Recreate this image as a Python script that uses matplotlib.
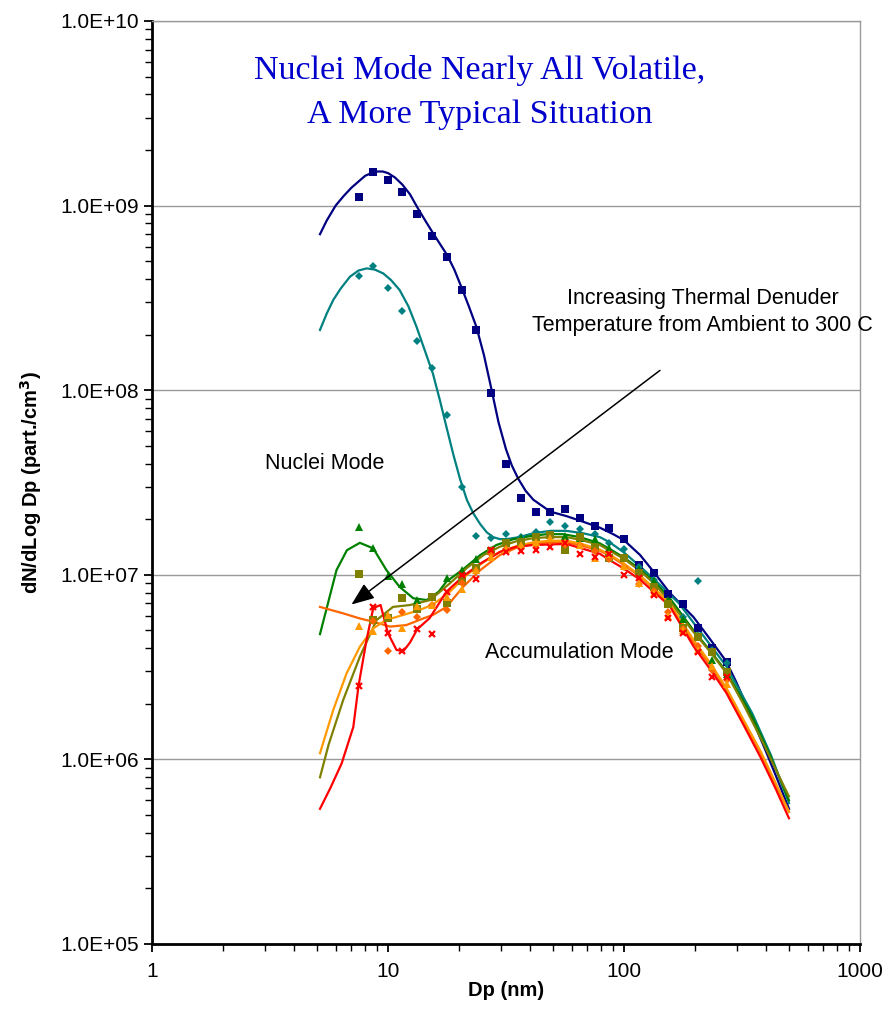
import numpy as np
import matplotlib
matplotlib.use('Agg')
import matplotlib.pyplot as plt
from matplotlib.ticker import LogLocator, FuncFormatter, NullFormatter

plt.rcParams['font.family'] = ['Liberation Sans', 'DejaVu Sans']

# SMPS size bins (nm)
bins = [7.5, 8.66, 10.0, 11.5, 13.3, 15.4, 17.8, 20.5, 23.7, 27.4, 31.6, 36.5, 42.2,
        48.7, 56.2, 64.9, 75.0, 86.6, 100, 115.5, 133.4, 154, 177.8, 205.4, 237.1, 273.8]

# measured points, one list per denuder temperature
navy_pts = [1.11e9, 1.52e9, 1.38e9, 1.19e9, 8.98e8, 6.84e8, 5.27e8, 3.49e8, 2.12e8, 9.6e7, 4.0e7,
            2.62e7, 2.2e7, 2.2e7, 2.27e7, 2.02e7, 1.83e7, 1.79e7, 1.56e7, 1.13e7, 1.02e7, 7.87e6,
            6.95e6, 5.17e6, 4.0e6, 3.38e6]
teal_pts = [4.17e8, 4.71e8, 3.56e8, 2.67e8, 1.85e8, 1.32e8, 7.35e7, 2.99e7, 1.63e7, 1.58e7, 1.66e7,
            1.61e7, 1.7e7, 1.94e7, 1.84e7, 1.77e7, 1.67e7, 1.48e7, 1.38e7, 1.10e7, 9.38e6, 7.0e6,
            5.9e6, 9.26e6, 3.9e6, 3.32e6]
green_pts = [1.82e7, 1.39e7, 9.8e6, 8.9e6, 7.3e6, 7.6e6, 9.66e6, 1.06e7, 1.22e7, 1.36e7, 1.5e7,
             1.58e7, 1.63e7, 1.64e7, 1.62e7, 1.58e7, 1.56e7, 1.4e7, 1.25e7, 1.08e7, 9.2e6, 7.3e6,
             5.73e6, 4.7e6, 3.45e6, 2.9e6]
olive_pts = [1.01e7, 5.7e6, 5.87e6, 7.5e6, 6.5e6, 7.6e6, 7.06e6, 9.2e6, 1.09e7, 1.35e7, 1.48e7,
             1.5e7, 1.6e7, 1.65e7, 1.37e7, 1.6e7, 1.39e7, 1.24e7, 1.24e7, 1.02e7, 8.6e6, 6.95e6,
             5.13e6, 4.58e6, 3.83e6, 2.99e6]
orange_pts = [np.nan, 5.65e6, 3.85e6, 6.3e6, 5.9e6, 6.9e6, 6.46e6, 9.0e6, 1.05e7, 1.3e7, 1.38e7,
              1.42e7, 1.45e7, 1.5e7, 1.45e7, 1.45e7, 1.35e7, 1.22e7, 1.1e7, 8.9e6, 8.2e6, 6.3e6,
              5.1e6, 4.1e6, 3.05e6, 2.7e6]
amber_pts = [5.3e6, 4.98e6, 6.06e6, 5.13e6, 6.8e6, 6.9e6, 7.6e6, 8.4e6, 1.06e7, 1.25e7, 1.38e7,
             1.45e7, 1.5e7, 1.58e7, 1.5e7, 1.45e7, 1.24e7, 1.3e7, 1.12e7, 9.0e6, 8.0e6, 6.0e6,
             5.0e6, 3.9e6, 3.2e6, 2.55e6]
red_pts = [2.5e6, 6.67e6, 4.82e6, 3.87e6, 5.07e6, 4.76e6, 8.1e6, 1.0e7, 9.5e6, 1.36e7, 1.33e7,
           1.35e7, 1.36e7, 1.42e7, 1.48e7, 1.3e7, 1.25e7, 1.3e7, 1.0e7, 9.6e6, 7.8e6, 5.8e6,
           4.82e6, 3.84e6, 2.8e6, 2.8e6]

# fitted curves
navy_fx = [5.15, 5.5, 6.0, 6.5, 7.0, 7.5, 8.0, 8.5, 9.0, 9.5, 10.0, 10.7, 11.5, 12.4, 13.3, 14.3,
           15.4, 16.6, 17.8, 19.1, 20.5, 22.0, 23.7, 25.5, 27.4, 29.4, 31.6, 33.5, 35.7, 38.3,
           41.3, 48.7, 57, 67, 79, 90, 100, 117, 135, 156, 197, 231, 271, 300, 350, 400, 450, 500]
navy_fy = [7.0e8, 8.3e8, 1.0e9, 1.13e9, 1.25e9, 1.35e9, 1.45e9, 1.5e9, 1.53e9, 1.53e9, 1.5e9,
           1.42e9, 1.3e9, 1.15e9, 9.8e8, 8.4e8, 7.2e8, 6.2e8, 5.4e8, 4.5e8, 3.6e8, 2.85e8, 2.2e8,
           1.55e8, 1.02e8, 6.7e7, 4.8e7, 3.9e7, 3.3e7, 2.85e7, 2.55e7, 2.2e7, 2.08e7, 1.94e7,
           1.8e7, 1.66e7, 1.54e7, 1.28e7, 1.02e7, 8.0e6, 5.9e6, 4.5e6, 3.4e6, 2.6e6, 1.65e6,
           1.1e6, 7.6e5, 5.4e5]
teal_fx = [5.15, 5.5, 5.86, 6.3, 6.9, 7.5, 8.13, 8.8, 9.55, 10.3, 11.2, 12.2, 13.2, 14.3, 15.5,
           16.6, 17.7, 18.9, 20.2, 21.6, 23.0, 24.6, 26.2, 27.9, 29.8, 31.8, 36, 41.3, 48.7, 57,
           67, 79, 87, 100, 117, 141, 171, 197, 231, 271, 350, 420, 500]
teal_fy = [2.12e8, 2.6e8, 3.08e8, 3.55e8, 4.12e8, 4.45e8, 4.57e8, 4.5e8, 4.29e8, 3.95e8, 3.49e8,
           2.85e8, 2.21e8, 1.65e8, 1.23e8, 8.8e7, 6.3e7, 4.5e7, 3.3e7, 2.54e7, 2.15e7, 1.88e7,
           1.7e7, 1.6e7, 1.56e7, 1.56e7, 1.6e7, 1.68e7, 1.73e7, 1.73e7, 1.68e7, 1.6e7, 1.5e7,
           1.32e7, 1.11e7, 8.9e6, 7.0e6, 5.5e6, 4.2e6, 3.2e6, 1.77e6, 1.05e6, 5.8e5]
green_fx = [5.15, 5.5, 6.05, 6.7, 7.6, 8.66, 9.85, 11.2, 12.8, 14.6, 16.4, 17.7, 20.8, 24.6, 28.8,
            34, 40, 47, 55, 65, 79, 87, 100, 117, 135, 156, 197, 231, 271, 350, 420, 500]
green_fy = [4.77e6, 6.6e6, 1.06e7, 1.36e7, 1.49e7, 1.39e7, 1.06e7, 8.6e6, 7.46e6, 7.3e6, 8.1e6,
            9.2e6, 1.07e7, 1.28e7, 1.45e7, 1.56e7, 1.62e7, 1.66e7, 1.66e7, 1.6e7, 1.48e7, 1.38e7,
            1.24e7, 1.07e7, 9.1e6, 7.5e6, 5.0e6, 3.9e6, 3.0e6, 1.7e6, 1.02e6, 6.0e5]
olive_fx = [5.15, 5.6, 6.46, 7.6, 8.95, 10.5, 12.4, 15.1, 18.3, 21.6, 25.4, 29.8, 35, 41.3, 48.7,
            57, 65, 79, 87, 100, 117, 135, 156, 197, 231, 271, 320, 380, 440, 500]
olive_fy = [8.0e5, 1.2e6, 2.1e6, 3.6e6, 5.69e6, 6.7e6, 6.86e6, 7.3e6, 9.0e6, 1.09e7, 1.28e7,
            1.42e7, 1.52e7, 1.58e7, 1.6e7, 1.6e7, 1.55e7, 1.45e7, 1.35e7, 1.22e7, 1.05e7, 8.9e6,
            7.2e6, 4.9e6, 3.85e6, 2.95e6, 2.0e6, 1.3e6, 8.8e5, 6.3e5]
orange_fx = [5.15, 6.46, 7.6, 8.66, 10.2, 11.96, 14.1, 15.5, 17.7, 20.8, 24.6, 29.8, 35, 41.3,
             48.7, 57, 65, 79, 87, 100, 117, 135, 156, 197, 231, 271, 320, 380, 440, 500]
orange_fy = [6.7e6, 6.18e6, 5.8e6, 5.57e6, 5.24e6, 5.34e6, 5.8e6, 6.06e6, 6.7e6, 8.6e6, 1.06e7,
             1.28e7, 1.4e7, 1.47e7, 1.5e7, 1.5e7, 1.45e7, 1.35e7, 1.27e7, 1.13e7, 9.8e6, 8.3e6,
             6.9e6, 4.3e6, 3.25e6, 2.4e6, 1.62e6, 1.08e6, 7.3e5, 5.2e5]
amber_fx = [5.15, 5.86, 6.68, 7.6, 8.66, 9.85, 11.6, 13.6, 15.5, 18.3, 21.6, 25.4, 29.8, 35,
            41.3, 48.7, 57, 65, 79, 87, 100, 117, 135, 156, 197, 231, 271, 320, 380, 440, 500]
amber_fy = [1.08e6, 1.85e6, 2.93e6, 4.08e6, 5.13e6, 5.7e6, 6.06e6, 6.44e6, 6.9e6, 8.1e6, 1.0e7,
            1.17e7, 1.33e7, 1.43e7, 1.5e7, 1.53e7, 1.53e7, 1.48e7, 1.37e7, 1.29e7, 1.15e7, 9.9e6,
            8.4e6, 7.0e6, 4.45e6, 3.35e6, 2.45e6, 1.65e6, 1.1e6, 7.4e5, 5.2e5]
red_fx = [5.15, 5.7, 6.36, 7.13, 7.5, 8.1, 8.66, 9.3, 10.0, 10.86, 11.6, 12.4, 13.3, 15.0, 17.7,
          20.8, 24.6, 29.8, 35, 41.3, 48.7, 57, 65, 79, 87, 100, 117, 135, 156, 197, 231, 271,
          320, 380, 440, 500]
red_fy = [5.4e5, 7.0e5, 9.5e5, 1.5e6, 2.5e6, 4.4e6, 6.6e6, 6.86e6, 4.82e6, 3.92e6, 3.85e6, 4.3e6,
          5.07e6, 5.82e6, 8.1e6, 9.8e6, 1.15e7, 1.33e7, 1.42e7, 1.45e7, 1.46e7, 1.47e7, 1.4e7,
          1.3e7, 1.2e7, 1.08e7, 9.4e6, 8.0e6, 6.8e6, 4.1e6, 3.1e6, 2.3e6, 1.55e6, 1.02e6, 6.9e5,
          4.8e5]

fig = plt.figure(figsize=(8.86, 10.10), dpi=100)
ax = fig.add_axes([152/886, 66/1010, 708/886, 923/1010])

series = [
    (navy_pts, navy_fx, navy_fy, '#000080', 's', 5.5),
    (teal_pts, teal_fx, teal_fy, '#008080', 'D', 4.2),
    (green_pts, green_fx, green_fy, '#008000', '^', 5.5),
    (olive_pts, olive_fx, olive_fy, '#808000', 's', 5.5),
    (orange_pts, orange_fx, orange_fy, '#FF6600', 'D', 4.2),
    (amber_pts, amber_fx, amber_fy, '#FF9900', '^', 5.5),
    (red_pts, red_fx, red_fy, '#FF0000', 'x', 5.0),
]
for pts, fx, fy, c, m, ms in series:
    ax.plot(fx, fy, color=c, lw=1.6, zorder=3)
    if m == 'x':
        ax.plot(bins, pts, ls='none', marker=m, color=c, ms=ms, mew=1.6, zorder=4)
    else:
        ax.plot(bins, pts, ls='none', marker=m, color=c, ms=ms, mew=0, zorder=4)

ax.set_xscale('log')
ax.set_yscale('log')
ax.set_xlim(1, 1000)
ax.set_ylim(1e5, 1e10)

ax.yaxis.set_major_locator(LogLocator(base=10, numticks=10))
ax.yaxis.set_minor_locator(LogLocator(base=10, subs=np.arange(2, 10), numticks=20))
ax.yaxis.set_major_formatter(FuncFormatter(lambda v, p: '%.1E' % v))
ax.yaxis.set_minor_formatter(NullFormatter())
ax.xaxis.set_major_formatter(FuncFormatter(lambda v, p: '%g' % v))
ax.xaxis.set_minor_formatter(NullFormatter())

ax.grid(True, which='major', axis='y', color='#9a9a9a', lw=1)
ax.set_axisbelow(True)
ax.tick_params(which='major', direction='out', length=6, width=1.3, labelsize=15, color='black')
ax.tick_params(which='minor', direction='out', length=5, width=1.0)
ax.tick_params(axis='x', pad=7)

for s in ['left', 'bottom']:
    ax.spines[s].set_linewidth(2)
for s in ['top', 'right']:
    ax.spines[s].set_color('#9a9a9a')
    ax.spines[s].set_linewidth(1)

ax.set_xlabel('Dp (nm)', fontsize=14.5, fontweight='bold', labelpad=0)
ax.set_ylabel('dN/dLog Dp (part./cm$^\\mathbf{3}$)', fontsize=14.5, fontweight='bold', labelpad=12)

ax.text(0.463, 0.923, 'Nuclei Mode Nearly All Volatile,\nA More Typical Situation',
        transform=ax.transAxes, ha='center', va='center', color='#0000CC',
        fontsize=24.5, family='Liberation Serif', linespacing=1.58)
ax.text(0.7775, 0.685, 'Increasing Thermal Denuder\nTemperature from Ambient to 300 C',
        transform=ax.transAxes, ha='center', va='center', fontsize=15.5, linespacing=1.35)
ax.text(0.159, 0.521, 'Nuclei Mode', transform=ax.transAxes, ha='left', va='center', fontsize=15.5)
ax.text(0.471, 0.316, 'Accumulation Mode', transform=ax.transAxes, ha='left', va='center', fontsize=15.5)

ax.annotate('', xy=(7.0, 6.9e6), xytext=(142, 1.28e8),
            arrowprops=dict(arrowstyle='-|>,head_length=1.4,head_width=0.55', color='black',
                            lw=1.1, shrinkA=0, shrinkB=0), zorder=5)

fig.savefig('out.png', dpi=100)
